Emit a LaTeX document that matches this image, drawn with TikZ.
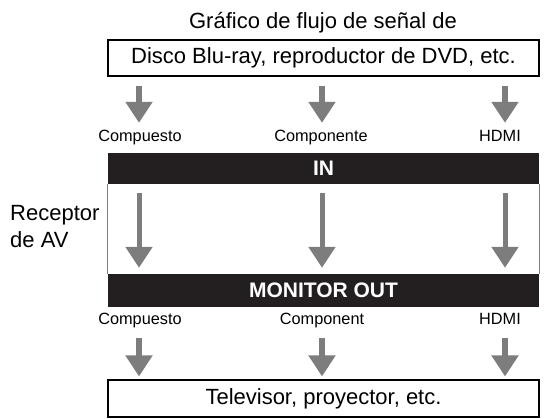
\documentclass[tikz,border=0pt]{standalone}
\usepackage{fontspec}
\setmainfont{Liberation Sans}
\usetikzlibrary{arrows.meta}
\definecolor{flowgray}{RGB}{125,125,125}
\definecolor{barblack}{RGB}{35,31,32}
\tikzset{
	flow/.style={draw=flowgray,line width=6pt,-{Triangle[width=26pt,length=21pt]}},
	devbox/.style={draw,line width=1.2pt,minimum width=431pt,inner sep=0pt,font=\fontsize{22}{26}\selectfont},
	portlbl/.style={anchor=base,inner sep=0pt,font=\fontsize{16.3}{20}\selectfont},
	bar/.style={fill=barblack,text=white,minimum width=431pt,inner sep=0pt,font=\bfseries\fontsize{21}{24}\selectfont},
	bigtxt/.style={inner sep=0pt,font=\fontsize{22}{27}\selectfont}
}
\begin{document}
\begin{tikzpicture}[x=1pt,y=-1pt]
			\useasboundingbox (0,0) rectangle (546,418);
			\coordinate (colA) at (139,0);
			\coordinate (colB) at (322,0);
			\coordinate (colC) at (505,0);
			\node[bigtxt,anchor=base] (title) at (323,28) {Gráfico de flujo de señal de};
			\node[devbox,minimum height=36pt] (src) at (323.5,58) {Disco Blu-ray, reproductor de DVD, etc.};
			\node[portlbl] (cmpIn) at (140,141.5) {Compuesto};
			\node[portlbl] (cpnIn) at (321,141.5) {Componente};
			\node[portlbl] (hdmiIn) at (500,141.5) {HDMI};
			% receptor
			\node[bar,minimum height=31pt] (inbar) at (323.5,168.5) {IN};
			\node[bar,minimum height=33pt] (outbar) at (323.5,290.5) {MONITOR OUT};
			\draw[gray,line width=1pt] (inbar.south west) -- (outbar.north west);
			\draw[gray,line width=1pt] (inbar.south east) -- (outbar.north east);
			\node[bigtxt,anchor=base west] (rcvA) at (10,220) {Receptor};
			\node[bigtxt,anchor=base west] (rcvB) at (10,247) {de AV};
			\node[portlbl] (cmpOut) at (140,324) {Compuesto};
			\node[portlbl] (cpnOut) at (322,324) {Component};
			\node[portlbl] (hdmiOut) at (500,324) {HDMI};
			\node[devbox,minimum height=37pt] (dst) at (323.5,398.5) {Televisor, proyector, etc.};
			% flechas
			\draw[flow] ([yshift=-9pt]src.south -| colA) -- ([yshift=30pt]inbar.north -| colA);
			\draw[flow] ([yshift=-9pt]src.south -| colB) -- ([yshift=30pt]inbar.north -| colB);
			\draw[flow] ([yshift=-9pt]src.south -| colC) -- ([yshift=30pt]inbar.north -| colC);
			\draw[flow,line width=5pt] ([yshift=-9pt]inbar.south -| colA) -- ([yshift=6pt]outbar.north -| colA);
			\draw[flow,line width=5pt] ([yshift=-9pt]inbar.south -| colB) -- ([yshift=6pt]outbar.north -| colB);
			\draw[flow,line width=5pt] ([yshift=-9pt]inbar.south -| colC) -- ([yshift=6pt]outbar.north -| colC);
			\draw[flow] ([yshift=-31pt]outbar.south -| colA) -- ([yshift=3pt]dst.north -| colA);
			\draw[flow] ([yshift=-31pt]outbar.south -| colB) -- ([yshift=3pt]dst.north -| colB);
			\draw[flow] ([yshift=-31pt]outbar.south -| colC) -- ([yshift=3pt]dst.north -| colC);
\end{tikzpicture}
\end{document}
